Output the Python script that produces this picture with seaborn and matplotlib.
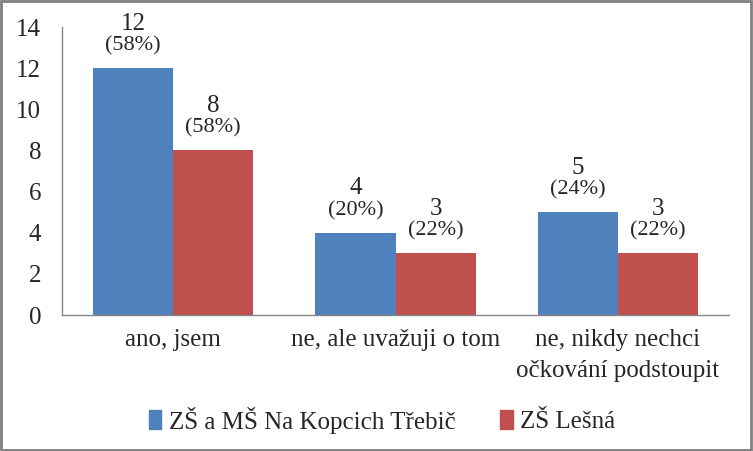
import matplotlib
matplotlib.use("Agg")
import matplotlib.pyplot as plt
import matplotlib.patches as mpatches
import seaborn as sns
import pandas as pd

categories = ["ano, jsem", "ne, ale uvažuji o tom", "ne, nikdy nechci\nočkování podstoupit"]
series_names = ["ZŠ a MŠ Na Kopcich Třebič", "ZŠ Lešná"]
values_a = [12, 4, 5]
values_b = [8, 3, 3]
pct_a = [58, 20, 24]
pct_b = [58, 22, 22]
yticks = [0, 2, 4, 6, 8, 10, 12, 14]
colors = ["#4F81BD", "#C0504D"]

df = pd.DataFrame({
    "cat": categories * 2,
    "series": [series_names[0]] * 3 + [series_names[1]] * 3,
    "val": values_a + values_b,
})

sns.set_style("white")
plt.rcParams["font.family"] = ["Liberation Serif", "DejaVu Serif"]

FS = 18

fig = plt.figure(figsize=(7.53, 4.51), dpi=100)
ax = fig.add_axes([62 / 753, 1 - 315 / 451, (729 - 62) / 753, (315 - 27) / 451])

sns.barplot(data=df, x="cat", y="val", hue="series", palette=colors,
            width=0.72, gap=0, saturation=1, ax=ax, legend=True,
            linewidth=0, edgecolor="none")

ax.set_ylim(0, 14)
ax.set_yticks(yticks)
ax.set_xlim(-0.5, 2.5)
ax.set_xlabel("")
ax.set_ylabel("")
ax.tick_params(axis="y", length=0, pad=15, labelsize=FS)
ax.tick_params(axis="x", length=0, pad=10, labelsize=FS)
for lbl in ax.get_xticklabels():
    lbl.set_linespacing(1.55)

for s in ["top", "right"]:
    ax.spines[s].set_visible(False)
for s in ["left", "bottom"]:
    ax.spines[s].set_color("#868686")
    ax.spines[s].set_linewidth(1)

pcts = [pct_a, pct_b]
vals = [values_a, values_b]
for i, cont in enumerate(ax.containers):
    ax.bar_label(cont, labels=[f"({p}%)" for p in pcts[i]], padding=9, fontsize=16)
    ax.bar_label(cont, labels=[f"{v}" for v in vals[i]], padding=24, fontsize=FS)

handles = [mpatches.Patch(color=c) for c in colors]
ax.legend(handles, series_names, loc="center", bbox_to_anchor=(382 / 753, 1 - 420 / 451),
          bbox_transform=fig.transFigure, ncol=2, frameon=False, fontsize=FS,
          handlelength=0.5, handleheight=0.8, handletextpad=0.3, columnspacing=1.8)

fig.patches.append(mpatches.Rectangle((0.001, 0.002), 0.997, 0.995, transform=fig.transFigure,
                                      fill=False, edgecolor="#7f7f7f", linewidth=2))

fig.savefig("out.png", dpi=100)
